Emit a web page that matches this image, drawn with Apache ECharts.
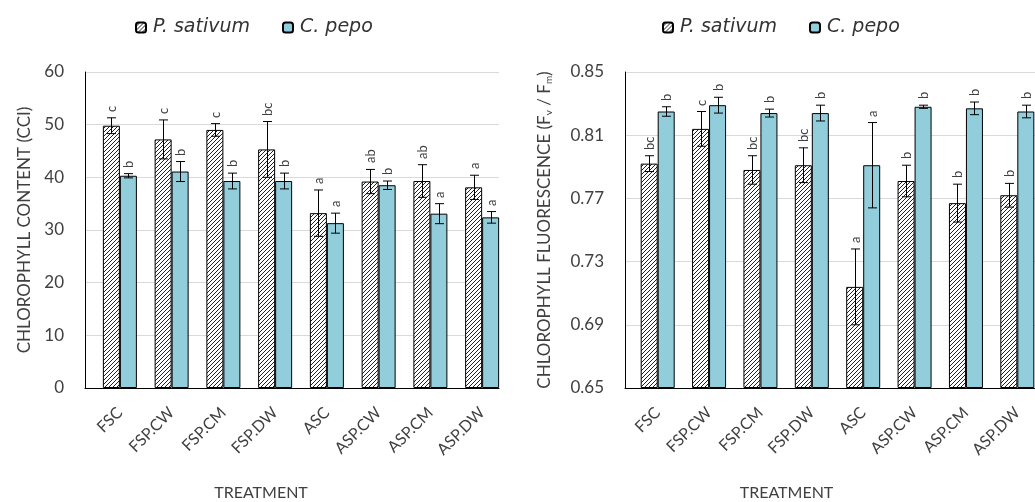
<!DOCTYPE html>
<html>
<head>
<meta charset="utf-8">
<script src="https://cdn.jsdelivr.net/npm/echarts@6/dist/echarts.min.js"></script>
<style>
html,body{margin:0;padding:0;background:#fff;}
#chart{width:1035px;height:502px;}
</style>
</head>
<body>
<div id="chart"></div>
<script>
// ---------- data ----------
const categories = ['FSC', 'FSP.CW', 'FSP.CM', 'FSP.DW', 'ASC', 'ASP.CW', 'ASP.CM', 'ASP.DW'];

const cciSativum      = [49.8, 47.2, 49.0, 45.3, 33.2, 39.2, 39.3, 38.1];
const cciSativumErr   = [1.5, 3.7, 1.2, 5.3, 4.4, 2.3, 3.1, 2.3];
const cciSativumGroup = ['c', 'c', 'c', 'bc', 'a', 'ab', 'ab', 'a'];
const cciPepo         = [40.3, 41.1, 39.3, 39.3, 31.3, 38.5, 33.1, 32.4];
const cciPepoErr      = [0.4, 1.9, 1.5, 1.5, 1.9, 0.8, 1.9, 1.1];
const cciPepoGroup    = ['b', 'b', 'b', 'b', 'a', 'b', 'a', 'a'];

const fvfmSativum      = [0.792, 0.814, 0.788, 0.791, 0.714, 0.781, 0.767, 0.772];
const fvfmSativumErr   = [0.005, 0.011, 0.009, 0.011, 0.024, 0.010, 0.012, 0.0075];
const fvfmSativumGroup = ['bc', 'c', 'bc', 'bc', 'a', 'b', 'b', 'b'];
const fvfmPepo         = [0.825, 0.829, 0.824, 0.824, 0.791, 0.828, 0.827, 0.825];
const fvfmPepoErr      = [0.003, 0.005, 0.0025, 0.005, 0.027, 0.001, 0.004, 0.004];
const fvfmPepoGroup    = ['b', 'b', 'b', 'b', 'a', 'b', 'b', 'b'];

const cciTicks  = {min: 0, max: 60, interval: 10};
const fvfmTicks = {min: 0.65, max: 0.85, interval: 0.04};

const seriesNames = ['P. sativum', 'C. pepo'];

// ---------- styling ----------
const FONT = 'Lato, "Open Sans", sans-serif';
const LEG_FONT = '"DejaVu Sans", "Open Sans", sans-serif';
const BLUE = '#92CDDC';
const BAR_W = 17;
const TXT = '#404040';

function hatch() {
  const n = 4;
  const c = document.createElement('canvas');
  c.width = n; c.height = n;
  const ctx = c.getContext('2d');
  ctx.fillStyle = '#fff';
  ctx.fillRect(0, 0, n, n);
  ctx.fillStyle = '#222';
  for (let i = 0; i < n; i++) {
    ctx.fillRect(n - 1 - i, i, 1, 1);
  }
  return {image: c, repeat: 'repeat'};
}
const HATCH = hatch();

const base = fvfmTicks.min;
const shift = (arr, b) => arr.map(v => +(v - b).toFixed(6));

function errSeries(xi, yi, values, errs, groups, offset) {
  return {
    type: 'custom',
    xAxisIndex: xi, yAxisIndex: yi,
    silent: true, z: 5,
    data: values.map((v, i) => [i, v, errs[i]]),
    renderItem: function (params, api) {
      const i = api.value(0), v = api.value(1), e = api.value(2);
      const top = api.coord([i, v + e]);
      const bot = api.coord([i, v - e]);
      const xr = Math.round(top[0] + offset);
      const x = xr + 0.5;
      const cap = 4.5;
      const st = {stroke: '#000', lineWidth: 1};
      return {
        type: 'group',
        children: [
          {type: 'line', shape: {x1: x, y1: top[1], x2: x, y2: bot[1]}, style: st},
          {type: 'line', shape: {x1: x - cap, y1: top[1], x2: x + cap, y2: top[1]}, style: st},
          {type: 'line', shape: {x1: x - cap, y1: bot[1], x2: x + cap, y2: bot[1]}, style: st},
          {type: 'text', x: xr + 1, y: Math.round(top[1] - 6), rotation: Math.PI / 2,
           style: {text: groups[params.dataIndex], fill: TXT, font: '13px ' + FONT,
                   align: 'left', verticalAlign: 'middle'}}
        ]
      };
    }
  };
}

function barSeries(name, xi, yi, data, color) {
  return {
    name: name, type: 'bar', xAxisIndex: xi, yAxisIndex: yi,
    data: data, barWidth: BAR_W, barGap: '0%',
    itemStyle: {color: color, borderColor: '#000', borderWidth: 1}
  };
}

const axisGridY = (ticks, fmt, name, gap, rich) => ({
  type: 'value', min: ticks.min, max: ticks.max, interval: ticks.interval,
  axisLine: {show: true, lineStyle: {color: '#000', width: 1}},
  axisTick: {show: false},
  splitLine: {show: true, lineStyle: {color: '#d9d9d9', width: 1}},
  axisLabel: {color: TXT, fontSize: 17, fontFamily: FONT, margin: 21, formatter: fmt},
  name: name, nameLocation: 'middle', nameGap: gap,
  nameTextStyle: {color: TXT, fontSize: 17, fontFamily: FONT, rich: rich}
});
const hiddenY = (ticks) => ({
  type: 'value', min: ticks.min, max: ticks.max, interval: ticks.interval,
  axisLine: {show: false}, axisTick: {show: false}, splitLine: {show: false}, axisLabel: {show: false}
});
const lineX = (gi) => ({
  type: 'category', gridIndex: gi, data: categories,
  axisLine: {show: true, lineStyle: {color: '#000'}}, axisTick: {show: false},
  axisLabel: {show: false}, splitLine: {show: false}
});
const labelX = (gi, pad) => ({
  type: 'category', gridIndex: gi, data: categories,
  axisLine: {show: false}, axisTick: {show: false}, splitLine: {show: false},
  axisLabel: {rotate: 45, color: TXT, fontSize: 16, fontFamily: FONT, margin: 22, interval: 0},
  name: 'TREATMENT', nameLocation: 'middle', nameGap: 97,
  nameTextStyle: {color: TXT, fontSize: 16, fontFamily: FONT, padding: pad}
});

const fvfmShifted = {min: 0, max: +(fvfmTicks.max - base).toFixed(6), interval: fvfmTicks.interval};

const legendText = {fontSize: 19, fontStyle: 'italic', color: '#333', fontFamily: LEG_FONT, padding: [0, 0, 0, 2]};

const gridBox = (left, width) => ({left: left, top: 72, width: width, height: 316,
  containLabel: false, outerBoundsMode: 'none'});

const option = {
  animation: false,
  backgroundColor: '#fff',
  legend: [
    {left: 130, top: 13, itemWidth: 10, itemHeight: 10, itemGap: 32, data: seriesNames, textStyle: legendText},
    {left: 657, top: 13, itemWidth: 10, itemHeight: 10, itemGap: 32, data: seriesNames, textStyle: legendText}
  ],
  grid: [gridBox(85, 414), gridBox(94, 414), gridBox(625, 410), gridBox(632, 411)],
  xAxis: [lineX(0), labelX(1, [0, 80, 0, 0]), lineX(2), labelX(3, [0, 102, 0, 0])],
  yAxis: [
    Object.assign(axisGridY(cciTicks, v => v, 'CHLOROPHYLL CONTENT (CCI)', 52), {gridIndex: 0}),
    Object.assign(hiddenY(cciTicks), {gridIndex: 1}),
    Object.assign(axisGridY(fvfmShifted, v => (v + base).toFixed(2),
      'CHLOROPHYLL FLUORESCENCE (F{s|v} / F{s|m})', 71,
      {s: {fontSize: 10, fontFamily: FONT, color: TXT, padding: [8, 0, 0, 0]}}), {gridIndex: 2}),
    Object.assign(hiddenY(fvfmShifted), {gridIndex: 3})
  ],
  series: [
    barSeries(seriesNames[0], 1, 1, cciSativum, HATCH),
    barSeries(seriesNames[1], 1, 1, cciPepo, BLUE),
    errSeries(1, 1, cciSativum, cciSativumErr, cciSativumGroup, -BAR_W / 2),
    errSeries(1, 1, cciPepo, cciPepoErr, cciPepoGroup, BAR_W / 2),
    barSeries(seriesNames[0], 3, 3, shift(fvfmSativum, base), HATCH),
    barSeries(seriesNames[1], 3, 3, shift(fvfmPepo, base), BLUE),
    errSeries(3, 3, shift(fvfmSativum, base), fvfmSativumErr, fvfmSativumGroup, -BAR_W / 2),
    errSeries(3, 3, shift(fvfmPepo, base), fvfmPepoErr, fvfmPepoGroup, BAR_W / 2)
  ]
};

const chart = echarts.init(document.getElementById('chart'), null, {renderer: 'canvas'});
chart.setOption(option);
</script>
</body>
</html>
